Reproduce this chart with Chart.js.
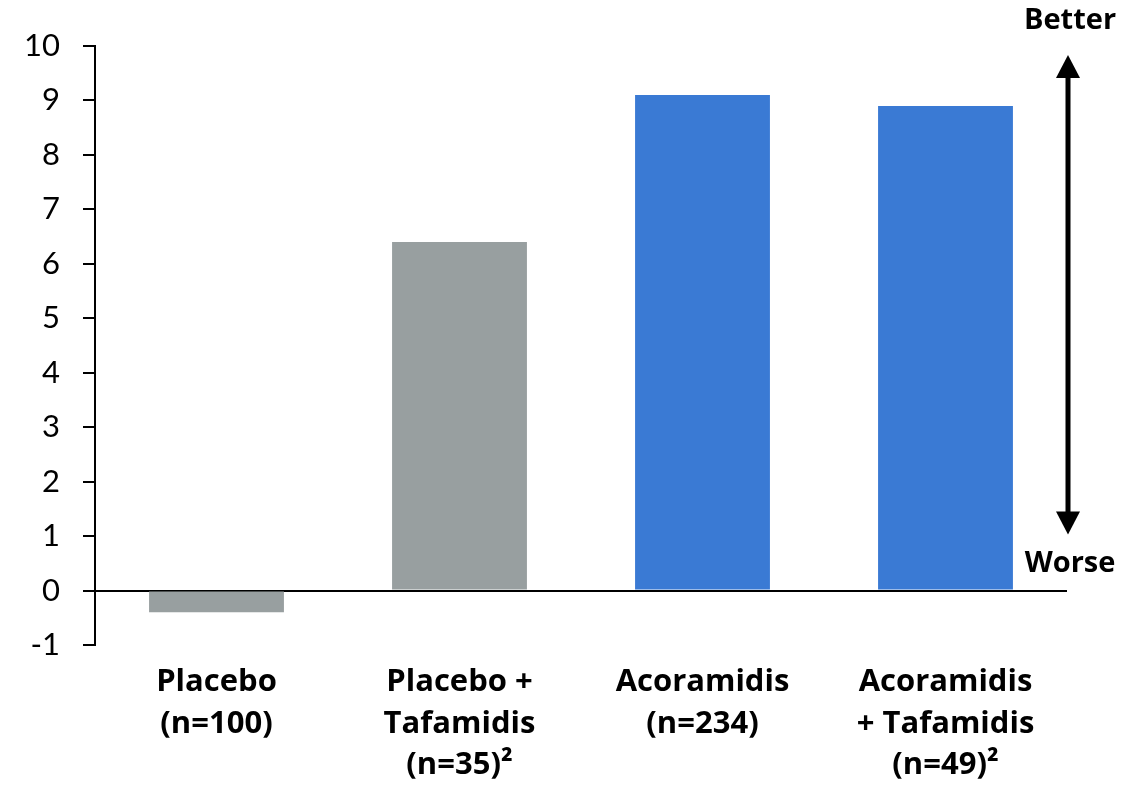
<!DOCTYPE html>
<html>
<head>
<meta charset="utf-8">
<script src="https://cdn.jsdelivr.net/npm/chart.js@4/dist/chart.umd.min.js"></script>
<style>
  html, body { margin: 0; padding: 0; background: #fff; }
  #wrap { width: 1142px; height: 789px; }
</style>
</head>
<body>
<div id="wrap"><canvas id="c" width="1142" height="789"></canvas></div>
<script>
// Groups shown along the x axis (each entry is one multi-line label)
const categories = [
  ['Placebo', '(n=100)'],
  ['Placebo +', 'Tafamidis', '(n=35)²'],
  ['Acoramidis', '(n=234)'],
  ['Acoramidis', '+ Tafamidis', '(n=49)²']
];
// Change from baseline per group
const values = [-0.4, 6.4, 9.1, 8.9];
// Bar fills per group
const barColors = ['#989fa0', '#989fa0', '#3a7ad4', '#3a7ad4'];
// Y axis range and tick step
const yMin = -1, yMax = 10, yStep = 1;
// Direction labels on the right side
const upLabel = 'Better', downLabel = 'Worse';

const TICK_FONT = 'Lato, "Open Sans", sans-serif';
const LABEL_FONT = '"Open Sans", Lato, sans-serif';

// Draws the "Better / Worse" direction arrow at the right of the plot
const directionArrow = {
  id: 'directionArrow',
  afterDraw(chart) {
    const { ctx, chartArea, scales } = chart;
    const x = chartArea.right + 1;
    const yTop = chartArea.top + 9;
    const yBot = scales.y.getPixelForValue(0) - 56;
    const headW = 12, headH = 23;
    ctx.save();
    ctx.fillStyle = '#000';
    ctx.strokeStyle = '#000';
    ctx.lineWidth = 5;
    ctx.beginPath();
    ctx.moveTo(x, yTop + headH - 2);
    ctx.lineTo(x, yBot - headH + 2);
    ctx.stroke();
    ctx.beginPath();
    ctx.moveTo(x, yTop);
    ctx.lineTo(x - headW, yTop + headH);
    ctx.lineTo(x + headW, yTop + headH);
    ctx.closePath();
    ctx.fill();
    ctx.beginPath();
    ctx.moveTo(x, yBot);
    ctx.lineTo(x - headW, yBot - headH);
    ctx.lineTo(x + headW, yBot - headH);
    ctx.closePath();
    ctx.fill();
    ctx.font = 'bold 29px ' + LABEL_FONT;
    ctx.textAlign = 'center';
    ctx.textBaseline = 'middle';
    ctx.fillText(upLabel, x + 2, 21);
    ctx.fillText(downLabel, x + 2, yBot + 29);
    ctx.restore();
  }
};

new Chart(document.getElementById('c'), {
  type: 'bar',
  data: {
    labels: categories,
    datasets: [{
      data: values,
      backgroundColor: barColors,
      borderWidth: 0,
      categoryPercentage: 1,
      barPercentage: 0.555
    }]
  },
  options: {
    responsive: false,
    animation: false,
    devicePixelRatio: 1,
    layout: { padding: { left: 0, right: 75, top: 46, bottom: 0 } },
    plugins: {
      legend: { display: false },
      tooltip: { enabled: false }
    },
    scales: {
      x: {
        grid: { display: false },
        border: { display: false },
        ticks: {
          color: '#000',
          padding: 9,
          maxRotation: 0,
          autoSkip: false,
          font: { family: LABEL_FONT, size: 31, weight: 'bold', lineHeight: 1.33 }
        },
        afterFit(scale) { scale.height = 144; }
      },
      y: {
        min: yMin,
        max: yMax,
        border: { display: true, color: '#000', width: 2 },
        grid: {
          drawOnChartArea: true,
          color: (c) => (c.tick && c.tick.value === 0 ? '#000' : 'rgba(0,0,0,0)'),
          lineWidth: 2,
          tickColor: '#000',
          tickLength: 12,
          tickWidth: 2
        },
        ticks: {
          stepSize: yStep,
          color: '#000',
          padding: 23,
          font: { family: TICK_FONT, size: 31 }
        },
        afterFit(scale) { scale.width = 95; }
      }
    }
  },
  plugins: [directionArrow]
});
</script>
</body>
</html>
